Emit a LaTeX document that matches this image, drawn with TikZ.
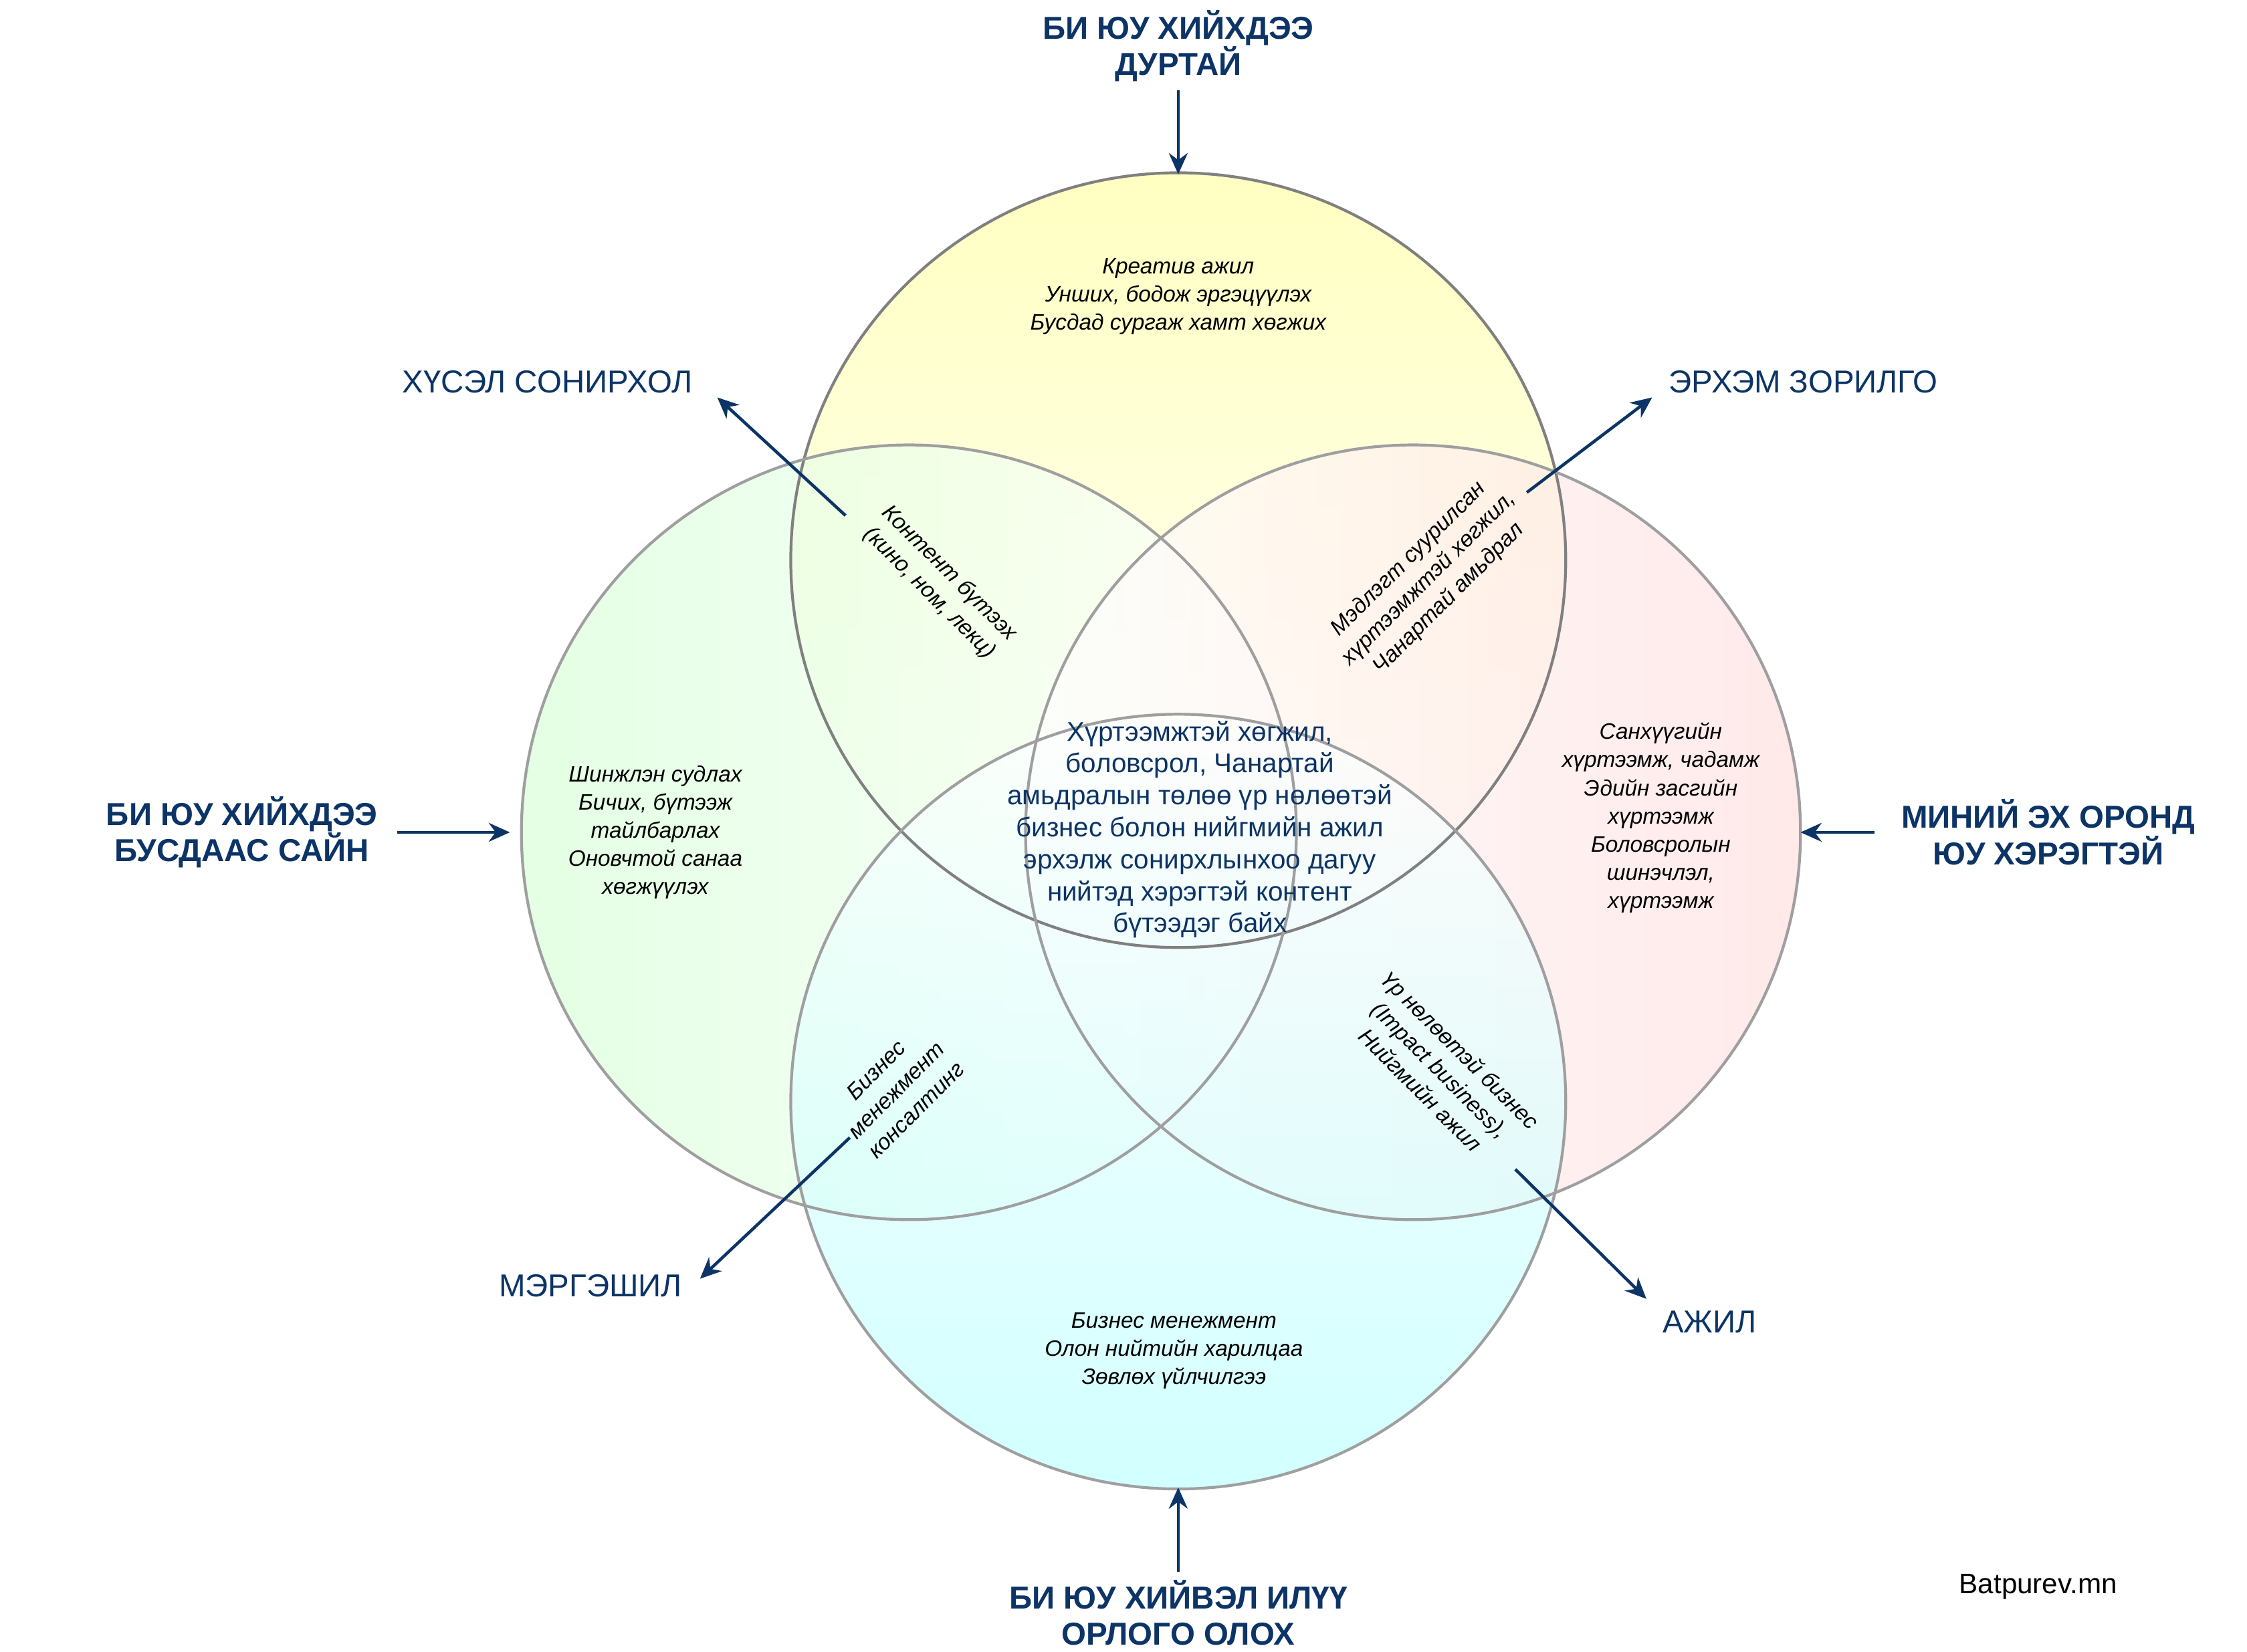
\documentclass[tikz,border=0pt]{standalone}
\usepackage{fontspec}
\setmainfont{Liberation Sans}
\usetikzlibrary{arrows.meta}
\begin{document}
\begin{tikzpicture}[x=0.02154cm,y=-0.02154cm,
  circ/.style={draw=gray!75,line width=1.2pt},
  ar/.style={draw=navy,line width=1.3pt,-{Stealth[length=9pt,width=8pt]}},
  hd/.style={font=\fontsize{13.5}{15.5}\selectfont\bfseries,text=navy,align=center},
  lb/.style={font=\fontsize{13.5}{15.5}\selectfont,text=navy,align=center},
  it/.style={font=\fontsize{9.5}{12}\selectfont\itshape,align=center}]
\definecolor{navy}{HTML}{0C3466}
\useasboundingbox (0,0) rectangle (1560,1147);
\fill[white] (0,0) rectangle (1560,1147);
% circles
\shade[top color=yellow!30,bottom color=white,fill opacity=0.8] (818,389) circle (269);
\shade[left color=green!15,right color=white,fill opacity=0.7] (631,578) circle (269);
\shade[right color=red!12,left color=white,fill opacity=0.7] (981,578) circle (269);
\shade[bottom color=cyan!25,top color=white,fill opacity=0.7] (818,765) circle (269);
\draw[circ,draw=gray] (818,389) circle (269);
\draw[circ] (631,578) circle (269);
\draw[circ] (981,578) circle (269);
\draw[circ] (818,765) circle (269);
% headings
\node[hd] (t) at (818,32) {БИ ЮУ ХИЙХДЭЭ\\ДУРТАЙ};
\node[hd] (b) at (818,1120) {БИ ЮУ ХИЙВЭЛ ИЛҮҮ\\ОРЛОГО ОЛОХ};
\node[hd] (l) at (168,578) {БИ ЮУ ХИЙХДЭЭ\\БУСДААС САЙН};
\node[hd] (r) at (1422,578) {МИНИЙ ЭХ ОРОНД\\ЮУ ХЭРЭГТЭЙ};
\node[lb] (tl) at (380,265) {ХҮСЭЛ СОНИРХОЛ};
\node[lb] (tr) at (1252,265) {ЭРХЭМ ЗОРИЛГО};
\node[lb] (bl) at (410,893) {МЭРГЭШИЛ};
\node[lb] (br) at (1187,918) {АЖИЛ};
\coordinate (ct) at (818,121);
\coordinate (cb) at (818,1033);
\coordinate (cl) at (354,578);
\coordinate (cr) at (1250,578);
\draw[ar] (t) -- (ct);
\draw[ar] (b) -- (cb);
\draw[ar] (l.east)+(8,0) -- (cl);
\draw[ar] ([xshift=-8pt]r.west) -- (cr);
\coordinate (s1) at (587,358); \coordinate (s2) at (1060,342);
\coordinate (s3) at (590,790); \coordinate (s4) at (1052,812);
\draw[ar] (s1) -- (498,276) coordinate (e1);
\draw[ar] (s2) -- (1147,276) coordinate (e2);
\draw[ar] (s3) -- (486,888) coordinate (e3);
\draw[ar] (s4) -- (1143,902) coordinate (e4);
% texts
\node[it] (nt) at (818,206) {Креатив ажил\\Унших, бодож эргэцүүлэх\\Бусдад сургаж хамт хөгжих};
\node[it] (nl) at (455,578) {Шинжлэн судлах\\Бичих, бүтээж\\тайлбарлах\\Оновчтой санаа\\хөгжүүлэх};
\node[it] (nr) at (1153,568) {Санхүүгийн\\хүртээмж, чадамж\\Эдийн засгийн\\хүртээмж\\Боловсролын\\шинэчлэл,\\хүртээмж};
\node[it] (nb) at (815,938) {Бизнес менежмент\\Олон нийтийн харилцаа\\Зөвлөх үйлчилгээ};
\node[it,rotate=-45] (ntl) at (652,405) {Контент бүтээх\\(кино, ном, лекц)};
\node[it,rotate=45] (ntr) at (992,402) {Мэдлэгт суурилсан\\хүртээмжтэй хөгжил,\\Чанартай амьдрал};
\node[it,rotate=45] (nbl) at (622,757) {Бизнес\\менежмент\\консалтинг};
\node[it,rotate=-45] (nbr) at (1000,743) {Үр нөлөөтэй бизнес\\(Impact business),\\Нийгмийн ажил};
\node[font=\fontsize{11.5}{13.6}\selectfont,text=navy,align=center] (c) at (833,576) {Хүртээмжтэй хөгжил,\\боловсрол, Чанартай\\амьдралын төлөө үр нөлөөтэй\\бизнес болон нийгмийн ажил\\эрхэлж сонирхлынхоо дагуу\\нийтэд хэрэгтэй контент\\бүтээдэг байх};
\node[font=\fontsize{12}{14}\selectfont] (w) at (1415,1102) {Batpurev.mn};
\end{tikzpicture}
\end{document}
